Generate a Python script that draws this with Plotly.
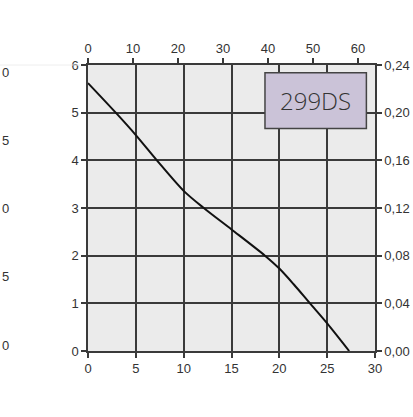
import plotly.graph_objects as go

# Data
flow = [0, 2.9, 5, 7.2, 10, 12.1, 15, 18.5, 20, 21.5, 23.2, 25, 27.3]
pressure = [5.62, 5.0, 4.53, 4.0, 3.36, 3.0, 2.55, 2.0, 1.73, 1.40, 1.0, 0.58, 0.0]

bottom_ticks = [0, 5, 10, 15, 20, 25, 30]
top_ticks = [0, 10, 20, 30, 40, 50, 60]
left_ticks = [0, 1, 2, 3, 4, 5, 6]
right_ticks = [0.00, 0.04, 0.08, 0.12, 0.16, 0.20, 0.24]
cut_labels = ["0", "5", "0", "5", "0"]
model_name = "299DS"

grid_col = "#3a3a3a"
font = dict(family="Liberation Sans, Arial, sans-serif", size=13, color="#333333")

fig = go.Figure()
fig.add_trace(go.Scatter(x=flow, y=pressure, mode="lines",
                         line=dict(color="#111111", width=2, shape="spline", smoothing=0.8),
                         hoverinfo="skip", showlegend=False))
# invisible trace to activate secondary axes
fig.add_trace(go.Scatter(x=[0], y=[0], xaxis="x2", yaxis="y2", mode="markers",
                         marker=dict(opacity=0), showlegend=False, hoverinfo="skip"))

axis_common = dict(showline=True, linecolor=grid_col, linewidth=1.5, ticks="outside",
                   tickcolor=grid_col, tickwidth=1.5, ticklen=5, zeroline=False,
                   tickfont=font, mirror=False, automargin=False)

fig.update_layout(
    width=413, height=417,
    margin=dict(l=88, r=38, t=65, b=66, pad=0),
    paper_bgcolor="white", plot_bgcolor="#ebebeb",
    separators=", ",
    xaxis=dict(range=[0, 30], tickvals=bottom_ticks, showgrid=True, gridcolor=grid_col,
               gridwidth=1.5, **axis_common),
    xaxis2=dict(range=[0, 60 * 287 / 270], tickvals=top_ticks, overlaying="x", side="top",
                showgrid=False, **axis_common),
    yaxis=dict(range=[0, 6], tickvals=left_ticks, showgrid=True, gridcolor=grid_col,
               gridwidth=1.5, **axis_common),
    yaxis2=dict(range=[0, 0.24], tickvals=right_ticks, tickformat=".2f", overlaying="y",
                side="right", showgrid=False, **axis_common),
    showlegend=False,
)

# model name box
fig.add_shape(type="rect", xref="x", yref="y", x0=18.5, x1=29.1, y0=4.67, y1=5.84,
              fillcolor="#cbc3d8", line=dict(color="#444444", width=1.5))
fig.add_annotation(xref="x", yref="y", x=23.8, y=5.255, text=model_name, showarrow=False,
                   font=dict(family="Open Sans, Lato, sans-serif", size=24, color="#333333",
                             weight=300))

# cut-off labels of a neighbouring axis at the far left
n = len(cut_labels)
for i, t in enumerate(cut_labels):
    ypix = 72 + i * (345 - 72) / (n - 1)
    fig.add_annotation(xref="paper", yref="paper", x=-88 / 287, xanchor="left",
                       y=(351 - ypix) / 286, yanchor="middle", text=t, showarrow=False,
                       font=dict(family="Liberation Sans, Arial, sans-serif", size=13,
                                 color="#333333"))
fig.add_shape(type="line", xref="paper", yref="paper", x0=-88 / 287, x1=-8 / 287,
              y0=1.0, y1=1.0, line=dict(color="#eeeeee", width=1))

fig.write_html("out.html", config={"displayModeBar": False},
               post_script="document.body.style.margin='0';")
